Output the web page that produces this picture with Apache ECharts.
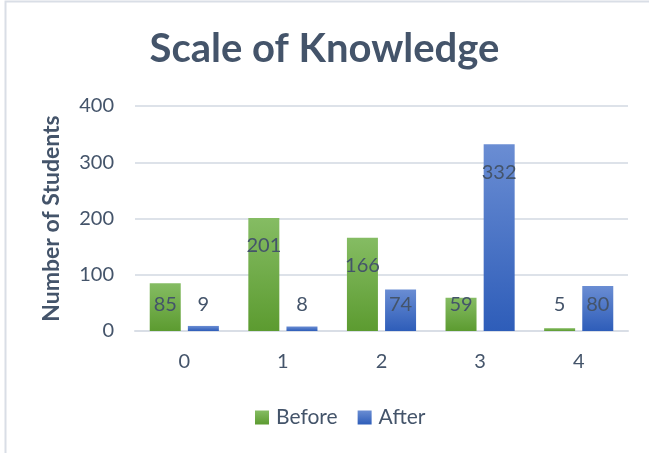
<!DOCTYPE html>
<html>
<head>
<meta charset="utf-8">
<script src="https://cdn.jsdelivr.net/npm/echarts@6/dist/echarts.min.js"></script>
<style>
html,body{margin:0;padding:0;background:#fff;}
#chart{width:649px;height:453px;}
</style>
</head>
<body>
<div id="chart"></div>
<script>
const titleText = 'Scale of Knowledge';
const categories = ['0', '1', '2', '3', '4'];
const beforeValues = [85, 201, 166, 59, 5];
const afterValues = [9, 8, 74, 332, 80];
const seriesNames = ['Before', 'After'];
const yAxisName = 'Number of Students';

const textColor = '#44546A';
const font = 'Lato, "Open Sans", sans-serif';

const chart = echarts.init(document.getElementById('chart'), null, {renderer: 'canvas'});

function grad(top, bottom) {
  return new echarts.graphic.LinearGradient(0, 0, 0, 1, [
    {offset: 0, color: top},
    {offset: 1, color: bottom}
  ]);
}

function labelLayout(params) {
  const r = params.rect;
  const y = Math.min(r.y + 28, r.y + r.height - 26);
  return {x: r.x + r.width / 2, y: y, align: 'center', verticalAlign: 'middle'};
}

const labelStyle = {
  show: true,
  position: 'inside',
  color: textColor,
  fontFamily: font,
  fontSize: 20
};

chart.setOption({
  animation: false,
  backgroundColor: '#fff',
  graphic: [{
    type: 'rect',
    shape: {x: 5.5, y: 1.5, width: 700, height: 600},
    style: {fill: 'none', stroke: '#D9DEE6', lineWidth: 2},
    silent: true
  }],
  title: {
    text: titleText,
    left: 'center',
    top: 24,
    textStyle: {color: textColor, fontFamily: font, fontWeight: 'bold', fontSize: 40}
  },
  legend: {
    data: seriesNames,
    left: 250,
    top: 402,
    icon: 'rect',
    itemWidth: 14,
    itemHeight: 14,
    itemGap: 20,
    textStyle: {color: textColor, fontFamily: font, fontSize: 21, padding: [0, 0, 0, 2]}
  },
  grid: {left: 135, right: 21, top: 106, bottom: 122, containLabel: false},
  xAxis: {
    type: 'category',
    data: categories,
    axisLine: {lineStyle: {color: '#D9DEE6', width: 2}},
    axisTick: {show: false},
    axisLabel: {color: textColor, fontFamily: font, fontSize: 20, margin: 21}
  },
  yAxis: {
    type: 'value',
    min: 0,
    max: 400,
    interval: 100,
    name: yAxisName,
    nameLocation: 'middle',
    nameGap: 72,
    nameTextStyle: {color: textColor, fontFamily: font, fontSize: 23, fontWeight: 'bold'},
    axisLine: {show: false},
    axisTick: {show: false},
    axisLabel: {color: textColor, fontFamily: font, fontSize: 20, margin: 21},
    splitLine: {lineStyle: {color: '#DDE2E9', width: 2}}
  },
  series: [
    {
      name: seriesNames[0],
      type: 'bar',
      data: beforeValues,
      barWidth: 31,
      barGap: '23%',
      itemStyle: {color: grad('#85BC63', '#5C9B30')},
      label: labelStyle,
      labelLayout: labelLayout
    },
    {
      name: seriesNames[1],
      type: 'bar',
      data: afterValues,
      barWidth: 31,
      barGap: '23%',
      itemStyle: {color: grad('#6A8DD3', '#2E5DB9')},
      label: labelStyle,
      labelLayout: labelLayout
    }
  ]
});
</script>
</body>
</html>
